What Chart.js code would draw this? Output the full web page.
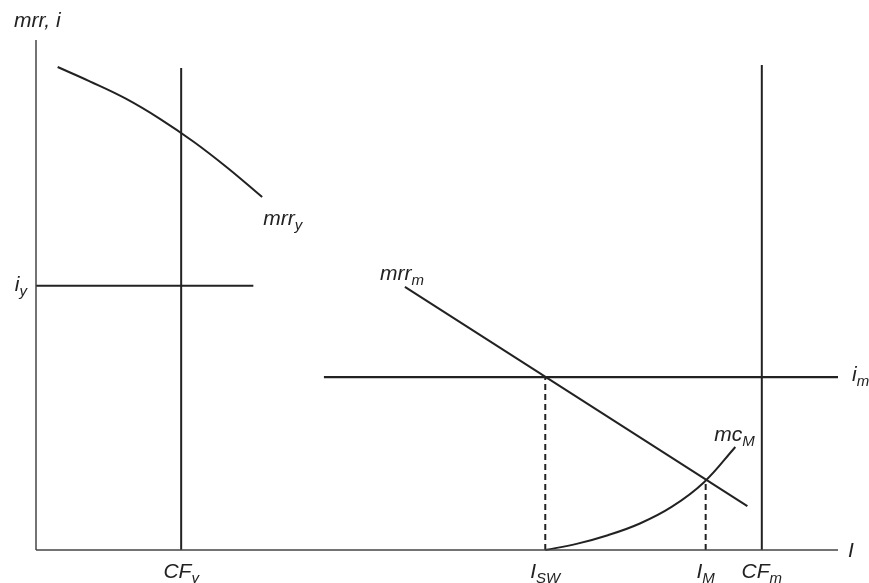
<!DOCTYPE html>
<html>
<head>
<meta charset="utf-8">
<script src="https://cdn.jsdelivr.net/npm/chart.js@4"></script>
<style>
  html, body { margin: 0; padding: 0; background: #fff; }
  #wrap { width: 869px; height: 583px; }
</style>
</head>
<body>
<div id="wrap"><canvas id="grafico" width="869" height="583"></canvas></div>
<script>
const cfY = 18.1;
const cfM = 90.5;
const iSW = 63.5;
const iM = 83.5;
const taxaY = 51.8;
const taxaM = 33.9;
const topoCFy = 94.5;
const topoCFm = 95.1;
const fimTaxaY = 27.1;
const inicioTaxaM = 35.9;

const mrrYx = [2.7, 6.7, 11.2, 15.5, 19.7, 23.9, 28.2];
const mrrYy = [94.7, 91.9, 88.5, 84.5, 80.0, 74.9, 69.2];
const mrrMx = [46.0, 88.7];
const mrrMy = [51.6, 8.6];
const mcMx = [63.5, 67.4, 71.3, 75.3, 79.3, 83.3, 87.2];
const mcMy = [0, 1.2, 2.9, 5.2, 8.5, 13.3, 20.2];
const mcMnoIM = 13.6;

const rotulosX = [
  { v: cfY, t: "CF", s: "y" },
  { v: iSW, t: "I", s: "SW" },
  { v: iM, t: "I", s: "M" },
  { v: cfM, t: "CF", s: "m" }
];

const pontos = (xs, ys) => xs.map((x, i) => ({ x: x, y: ys[i] }));

const cor = "#222";
const fonte = "'Liberation Sans', Arial, sans-serif";

function serie(data, extra) {
  return Object.assign({
    data: data,
    borderColor: cor,
    borderWidth: 2,
    pointRadius: 0,
    showLine: true,
    fill: false,
    clip: false
  }, extra || {});
}

function texto(ctx, x, y, t, s, alinhar) {
  ctx.font = "italic 21px " + fonte;
  const w1 = ctx.measureText(t).width;
  ctx.font = "italic 15px " + fonte;
  const w2 = s ? ctx.measureText(s).width : 0;
  let x0 = x;
  if (alinhar === "center") x0 = x - (w1 + w2) / 2;
  if (alinhar === "right") x0 = x - (w1 + w2);
  ctx.font = "italic 21px " + fonte;
  ctx.fillText(t, x0, y);
  if (s) {
    ctx.font = "italic 15px " + fonte;
    ctx.fillText(s, x0 + w1, y + 5);
  }
}

const rotulos = {
  id: "rotulos",
  afterDatasetsDraw(chart) {
    const { ctx, chartArea, scales } = chart;
    const px = v => scales.x.getPixelForValue(v);
    const py = v => scales.y.getPixelForValue(v);
    ctx.save();
    ctx.fillStyle = cor;
    ctx.textBaseline = "alphabetic";

    texto(ctx, chartArea.left - 22, chartArea.top - 13, "mrr, i", "", "left");
    texto(ctx, chartArea.left - 9, py(taxaY) + 5, "i", "y", "right");
    texto(ctx, px(mrrYx[mrrYx.length - 1]) + 1, py(mrrYy[mrrYy.length - 1]) + 28, "mrr", "y", "left");
    texto(ctx, px(mrrMx[0]) - 25, py(mrrMy[0]) - 7, "mrr", "m", "left");
    texto(ctx, chartArea.right + 14, py(taxaM) + 4, "i", "m", "left");
    texto(ctx, px(mcMx[mcMx.length - 1]) - 21, py(mcMy[mcMy.length - 1]) - 6, "mc", "M", "left");
    texto(ctx, chartArea.right + 10, chartArea.bottom + 7, "I", "", "left");

    rotulosX.forEach(r => {
      texto(ctx, px(r.v), chartArea.bottom + 28, r.t, r.s, "center");
    });
    ctx.restore();
  }
};

const ctx = document.getElementById("grafico").getContext("2d");
new Chart(ctx, {
  type: "scatter",
  data: {
    datasets: [
      serie([{ x: 0, y: 0 }, { x: 0, y: 100 }], { borderColor: "#444", borderWidth: 1.5 }),
      serie([{ x: 0, y: 0 }, { x: 100, y: 0 }], { borderColor: "#444", borderWidth: 1.5 }),
      serie([{ x: cfY, y: 0 }, { x: cfY, y: topoCFy }]),
      serie([{ x: 0, y: taxaY }, { x: fimTaxaY, y: taxaY }]),
      serie(pontos(mrrYx, mrrYy), { tension: 0.4 }),
      serie([{ x: inicioTaxaM, y: taxaM }, { x: 100, y: taxaM }], { borderWidth: 2.2 }),
      serie([{ x: cfM, y: 0 }, { x: cfM, y: topoCFm }]),
      serie(pontos(mrrMx, mrrMy)),
      serie([{ x: iSW, y: 0 }, { x: iSW, y: taxaM }], { borderDash: [6, 4] }),
      serie([{ x: iM, y: 0 }, { x: iM, y: mcMnoIM }], { borderDash: [6, 4] }),
      serie(pontos(mcMx, mcMy), { tension: 0.4 })
    ]
  },
  options: {
    responsive: false,
    animation: false,
    layout: { padding: { left: 36, right: 31, top: 40, bottom: 33 } },
    plugins: {
      legend: { display: false },
      tooltip: { enabled: false }
    },
    scales: {
      x: { type: "linear", min: 0, max: 100, display: false },
      y: { type: "linear", min: 0, max: 100, display: false }
    }
  },
  plugins: [rotulos]
});
</script>
</body>
</html>
